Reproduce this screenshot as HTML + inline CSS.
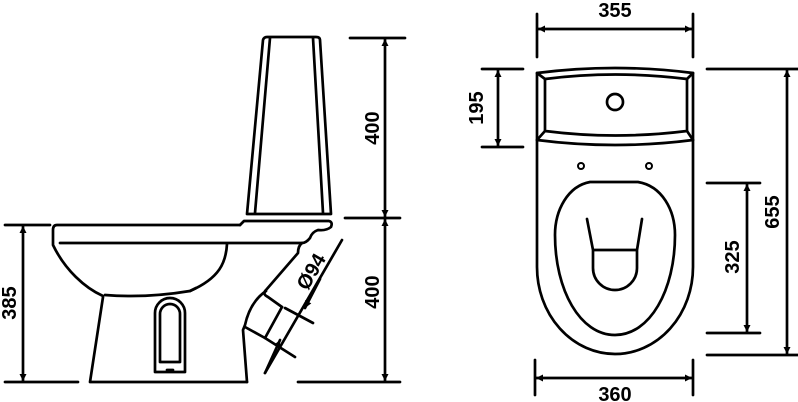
<!DOCTYPE html>
<html><head><meta charset="utf-8"><style>
html,body{margin:0;padding:0;background:#fff;}
svg{display:block;}
text{font-family:"Liberation Sans",sans-serif;font-weight:bold;font-size:20px;fill:#000;}
</style></head><body>
<svg width="798" height="402" viewBox="0 0 798 402" xmlns="http://www.w3.org/2000/svg">
<defs>
<marker id="a" viewBox="0 0 10 10" refX="10" refY="5" markerWidth="9" markerHeight="7" orient="auto-start-reverse" markerUnits="userSpaceOnUse"><path d="M0,0 L10,5 L0,10Z" fill="#000"/></marker>
</defs>
<g fill="none" stroke="#000" stroke-width="2.7" stroke-linejoin="round" stroke-linecap="round">
<!-- tank side -->
<path d="M247,214 L263,40 Q264,37 267,37 L316,37 Q320,37 320,40 L331,214 Z"/>
<path d="M270,38 L255,213 M313,38 L323,213"/>
<!-- seat -->
<path d="M240,225 L57,225 Q53,225 53,230 L53,245 C65,270 85,288 103,296"/>
<path d="M240,225 L244,221 L329,221 Q333,222 331,227 Q326,231 318,230 Q312,232 310,238 Q306,243 302,243 L60,243"/>
<path d="M227,244 C226,262 220,278 190,291 C160,296 130,297 105,295"/>
<path d="M190,291 L196,288"/>
<!-- trapway -->
<path d="M302,243 Q298,246 298,253 L266,290 Q262,294 268,297 L282,307"/>
<path d="M266,291 Q250,302 245,325 L243,330 L247,382"/>
<path d="M245,327 L265,338 L282,307"/>
<!-- foot -->
<path d="M103,297 L90,382 L247,382"/>
<!-- slot -->
<path d="M155,372 L155,313 A15,15 0 0 1 185,313 L185,372 Z"/>
<path d="M160,362 L160,314 A10,10 0 0 1 180,314 L180,362 Z"/>
<path d="M167,370 L173,370"/>
<!-- left dims -->
<path d="M5,225 L50,225 M5,382 L78,382"/>
<path d="M23,226 L23,381" marker-start="url(#a)" marker-end="url(#a)"/>
<path d="M350,38 L405,38 M345,218 L400,218 M298,382 L400,382"/>
<path d="M385,39 L385,217" marker-start="url(#a)" marker-end="url(#a)"/>
<path d="M385,219 L385,381" marker-start="url(#a)" marker-end="url(#a)"/>
<!-- Ø94 -->
<path d="M285,308 L313,323 M265,338 L295,357"/>
<path d="M342,240 L265,373"/>
<path d="M320,279 L305,308" marker-end="url(#a)"/>
<path d="M265,373 L280,340" marker-end="url(#a)"/>
<!-- top view -->
<path d="M537,73 Q615,63 693,73 L693,267 A78,87 0 0 1 537,267 Z"/>
<path d="M545,79 Q615,70 687,79 L687,131 Q615,140 545,131 Z"/>
<path d="M537,73 L545,79 M693,73 L687,79 M537,140 L545,131 M693,140 L687,131"/>
<path d="M537,140 Q615,150 693,140"/>
<circle cx="615" cy="102" r="8"/>
<circle cx="581" cy="166" r="3" stroke-width="2"/>
<circle cx="649" cy="166" r="3" stroke-width="2"/>
<path d="M590,182 H638 C662,186 675,210 675,235 C675,290 650,335 615,335 C580,335 555,290 555,235 C555,210 568,186 590,182Z"/>
<path d="M587,219 L593,250 L637,250 L642,219 M593,250 L593,268 A22,22 0 0 0 637,268 L637,250"/>
<!-- top view dims -->
<path d="M537,14 L537,57 M693,14 L693,57"/>
<path d="M538,29 L692,29" marker-start="url(#a)" marker-end="url(#a)"/>
<path d="M482,69 L523,69 M482,147 L523,147"/>
<path d="M498,70 L498,146" marker-start="url(#a)" marker-end="url(#a)"/>
<path d="M707,69 L798,69 M707,355 L798,355"/>
<path d="M787,70 L787,354" marker-start="url(#a)" marker-end="url(#a)"/>
<path d="M707,183 L760,183 M707,333 L760,333"/>
<path d="M747,184 L747,332" marker-start="url(#a)" marker-end="url(#a)"/>
<path d="M535,360 L535,395 M693,360 L693,395"/>
<path d="M536,378 L692,378" marker-start="url(#a)" marker-end="url(#a)"/>
</g>
<text x="615" y="17" text-anchor="middle">355</text>
<text x="615" y="401" text-anchor="middle">360</text>
<text transform="translate(483,108) rotate(-90)" text-anchor="middle">195</text>
<text transform="translate(779,212) rotate(-90)" text-anchor="middle">655</text>
<text transform="translate(739,257) rotate(-90)" text-anchor="middle">325</text>
<text transform="translate(379,128) rotate(-90)" text-anchor="middle">400</text>
<text transform="translate(379,292) rotate(-90)" text-anchor="middle">400</text>
<text transform="translate(16,303) rotate(-90)" text-anchor="middle">385</text>
<text transform="translate(317,275) rotate(-60)" text-anchor="middle">Ø94</text>
</svg>
</body></html>
